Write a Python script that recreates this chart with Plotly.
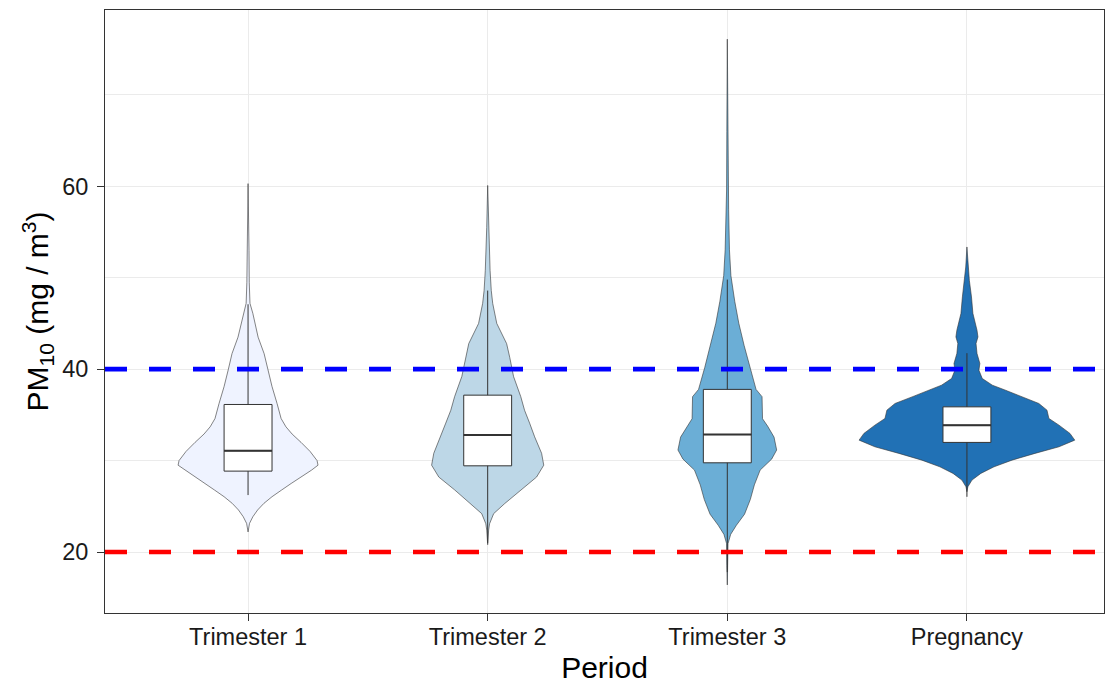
import plotly.graph_objects as go

# ---------------- data ----------------
categories = ["Trimester 1", "Trimester 2", "Trimester 3", "Pregnancy"]
fill_colors = ["#EFF3FF", "#BDD7E7", "#6BAED6", "#2171B5"]

# violin profiles: PM10 level and scaled density (half-width, category units)
t1_level = [60.3, 57.0, 53.0, 49.5, 47.2, 46.1, 43.5, 41.7, 39.9, 38.1, 36.25, 34.6,
            33.7, 32.9, 32.0, 31.0, 30.0, 29.5, 28.96, 28.23, 27.5, 26.78, 26.05,
            25.32, 24.6, 23.86, 23.13, 22.2]
t1_density = [0, 0.003, 0.004, 0.005, 0.008, 0.020, 0.042, 0.067, 0.083, 0.100, 0.121, 0.138,
              0.158, 0.184, 0.221, 0.259, 0.288, 0.292, 0.265, 0.225, 0.180, 0.140, 0.100,
              0.066, 0.040, 0.020, 0.006, 0]

t2_level = [60.1, 55.5, 50.8, 48.6, 47.2, 45.0, 42.8, 41.3, 39.2, 37.0, 35.5, 34.1,
            32.6, 30.8, 29.5, 28.2, 26.8, 25.3, 24.2, 23.1, 22.4, 20.8]
t2_density = [0, 0.004, 0.010, 0.015, 0.021, 0.038, 0.079, 0.092, 0.108, 0.138, 0.154, 0.175,
              0.196, 0.225, 0.234, 0.204, 0.138, 0.071, 0.025, 0.008, 0.004, 0]

t3_level = [76.1, 66.0, 59.6, 57.5, 53.05, 50.24, 47.43, 45.02, 42.61, 40.2, 37.79, 36.99,
            34.58, 33.78, 32.57, 31.16, 30.16, 28.96, 27.35, 25.74, 24.14, 22.93, 21.93,
            20.92, 18.5, 16.4]
t3_density = [0, 0.002, 0.003, 0.0055, 0.009, 0.015, 0.031, 0.048, 0.070, 0.094, 0.120, 0.145,
              0.147, 0.168, 0.195, 0.206, 0.185, 0.137, 0.113, 0.096, 0.072, 0.038, 0.014,
              0.003, 0.002, 0]

pg_level = [53.37, 51.18, 49.73, 47.9, 46.09, 44.26, 43.53, 42.81, 41.72, 40.62, 39.89,
            38.98, 38.25, 37.7, 36.97, 36.25, 35.52, 34.61, 33.88, 32.97, 32.24, 31.51,
            30.79, 30.05, 29.32, 28.6, 27.87, 27.14, 26.6]
pg_density = [0, 0.005, 0.010, 0.019, 0.025, 0.042, 0.046, 0.038, 0.042, 0.054, 0.050,
              0.064, 0.106, 0.161, 0.229, 0.300, 0.334, 0.342, 0.384, 0.430, 0.450, 0.384,
              0.284, 0.188, 0.113, 0.058, 0.021, 0.004, 0]

violin_levels = [t1_level, t2_level, t3_level, pg_level]
violin_density = [t1_density, t2_density, t3_density, pg_density]

# box-plot statistics
box_q1 = [28.85, 29.43, 29.76, 31.99]
box_median = [31.07, 32.79, 32.85, 33.88]
box_q3 = [36.14, 37.16, 37.79, 35.88]
whisker_low = [26.23, 21.0, 17.8, 26.04]
whisker_high = [47.1, 48.6, 49.8, 41.75]

# reference limits (dashed lines)
limit_values = [40, 20]
limit_colors = ["#0000FF", "#FF0000"]

# ---------------- figure ----------------
BOX_W = 0.2
DARK = "#333333"
FONT = "Liberation Sans, Arial, sans-serif"
X_RANGE = [-0.597, 3.572]
Y_RANGE = [13.33, 79.29]

fig = go.Figure()
positions = list(range(len(categories)))

for i, lev, dens, col in zip(positions, violin_levels, violin_density, fill_colors):
    xs = [i + d for d in dens] + [i - d for d in reversed(dens)]
    ys = list(lev) + list(reversed(lev))
    fig.add_trace(go.Scatter(x=xs, y=ys, mode="lines", fill="toself", fillcolor=col,
                             line=dict(color=DARK, width=0.6), hoverinfo="skip",
                             showlegend=False))

# boxes on an overlaid subplot so they are drawn above the violins
for i in positions:
    fig.add_trace(go.Box(x=[i], q1=[box_q1[i]], median=[box_median[i]], q3=[box_q3[i]],
                         lowerfence=[whisker_low[i]], upperfence=[whisker_high[i]],
                         width=BOX_W, whiskerwidth=0, fillcolor="white",
                         line=dict(color=DARK, width=1), boxpoints=False,
                         hoverinfo="skip", showlegend=False, xaxis="x2", yaxis="y2"))
    fig.add_trace(go.Scatter(x=[i - BOX_W / 2, i + BOX_W / 2],
                             y=[box_median[i], box_median[i]], mode="lines",
                             line=dict(color=DARK, width=2), hoverinfo="skip",
                             showlegend=False, xaxis="x2", yaxis="y2"))

for v, c in zip(limit_values, limit_colors):
    fig.add_shape(type="line", xref="paper", x0=0, x1=1, yref="y", y0=v, y1=v,
                  line=dict(color=c, width=4.7, dash="22px,22px"), layer="above")

fig.update_layout(
    width=1105, height=684,
    margin=dict(l=105, r=1, t=10, b=71),
    plot_bgcolor="white", paper_bgcolor="white",
    showlegend=False,
    font=dict(family=FONT, color="#1a1a1a"),
    boxmode="overlay",
    xaxis=dict(
        range=X_RANGE, tickmode="array", tickvals=positions, ticktext=categories,
        showgrid=True, gridcolor="#EBEBEB", gridwidth=1, zeroline=False,
        ticks="outside", ticklen=7, tickcolor=DARK, tickwidth=1, ticklabelstandoff=-4,
        showline=True, linecolor=DARK, linewidth=1, mirror=True, automargin=False,
        tickfont=dict(size=23.5, family=FONT, color="#1a1a1a"),
        title=dict(text="Period", font=dict(size=30, family=FONT, color="black"), standoff=8),
    ),
    yaxis=dict(
        range=Y_RANGE, tickmode="array", tickvals=[20, 40, 60],
        showgrid=True, gridcolor="#EBEBEB", gridwidth=1, zeroline=False,
        minor=dict(tickvals=[30, 50, 70], showgrid=True, gridcolor="#EBEBEB",
                   gridwidth=0.6, ticks=""),
        ticks="outside", ticklen=7, tickcolor=DARK, tickwidth=1, ticklabelstandoff=4,
        showline=True, linecolor=DARK, linewidth=1, mirror=True, automargin=False,
        tickfont=dict(size=23.5, family=FONT, color="#1a1a1a"),
        title=dict(text="PM<sub>10</sub> (mg / m<sup>3</sup>)",
                   font=dict(size=30, family=FONT, color="black"), standoff=4),
    ),
    xaxis2=dict(range=X_RANGE, overlaying="x", visible=False, showgrid=False,
                zeroline=False, automargin=False),
    yaxis2=dict(range=Y_RANGE, overlaying="y", visible=False, showgrid=False,
                zeroline=False, automargin=False),
)

# remove the browser's default 8px body margin so the figure fills the window exactly
fig.write_html("out.html", config={"displayModeBar": False},
               post_script="document.body.style.margin = '0px';")
